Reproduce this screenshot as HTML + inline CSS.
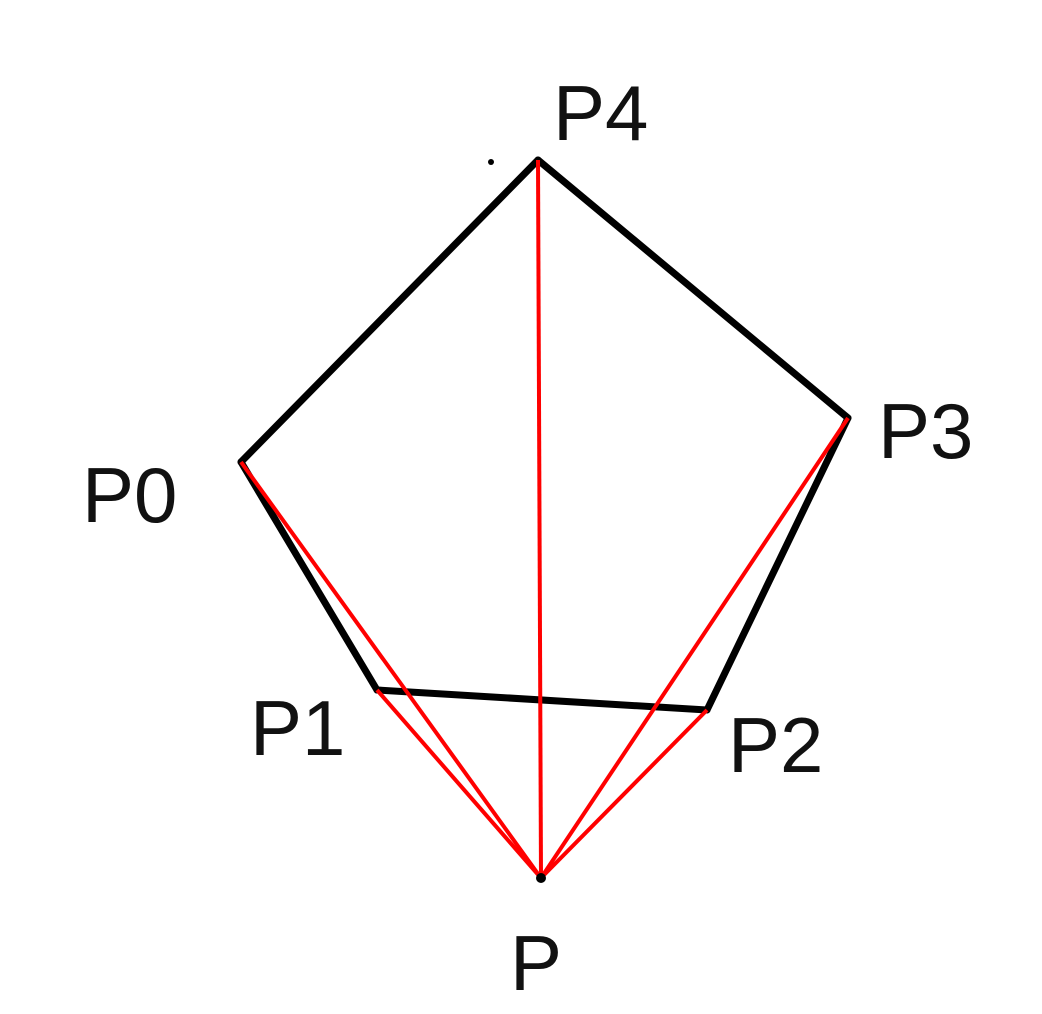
<!DOCTYPE html>
<html><head><meta charset="utf-8"><style>
html,body{margin:0;padding:0;background:#fff;}
svg{display:block;}
text{font-family:"Liberation Sans",sans-serif;font-size:78px;fill:#111;}
</style></head><body>
<svg id="chart" width="1042" height="1014" viewBox="0 0 1042 1014" xmlns="http://www.w3.org/2000/svg"></svg>
<script>
const names = ["P0","P1","P2","P3","P4"];
const xs = [241,377,707,848,538];
const ys = [462,690,710,418,160];
const px = [541];
const py = [878];
const labelX = [82,250,728,878,553,510];
const labelY = [522,755,772,458,140,990];
const NS="http://www.w3.org/2000/svg";
const svg=document.getElementById('chart');
function mk(t,a){const e=document.createElementNS(NS,t);for(const k in a)e.setAttribute(k,a[k]);svg.appendChild(e);return e;}
// pentagon edges
for(let i=0;i<names.length;i++){
  const j=(i+1)%names.length;
  const l=mk('line',{x1:xs[i],y1:ys[i],x2:xs[j],y2:ys[j],stroke:'#000','stroke-width':7,'stroke-linecap':'round'});
  
  
}
// red lines from P
for(let i=0;i<names.length;i++){
  const l=mk('line',{x1:px[0],y1:py[0],x2:xs[i],y2:ys[i],stroke:'#ff0000','stroke-width':4});
  
  
}
const d=mk('circle',{cx:px[0],cy:py[0],r:5,fill:'#000'});


const d2=mk('circle',{cx:491,cy:162,r:3,fill:'#000'});


const labels=names.concat(["P"]);
for(let i=0;i<labels.length;i++){
  const t=mk('text',{x:labelX[i],y:labelY[i]});
  t.textContent=labels[i];
  
  
}
</script>
</body></html>
